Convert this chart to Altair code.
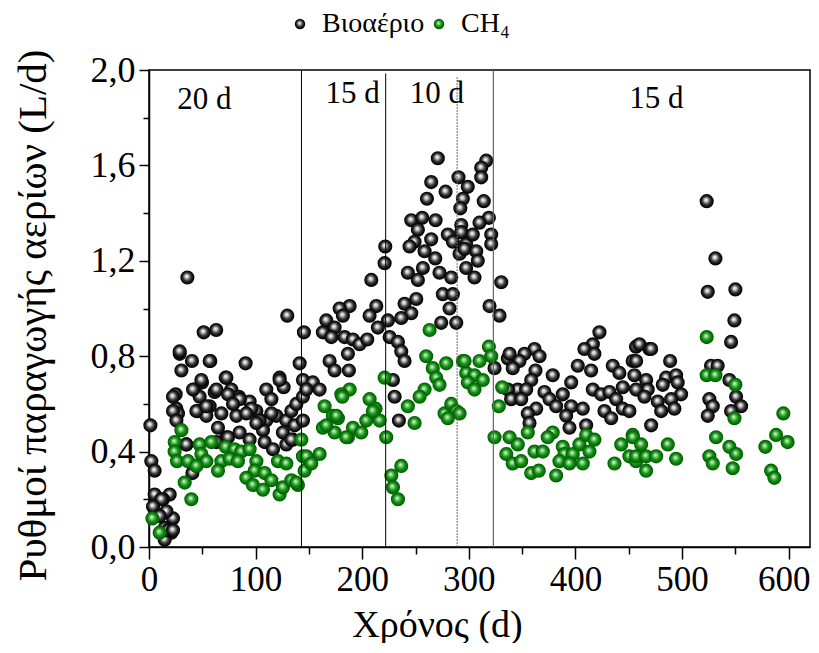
import altair as alt
import pandas as pd

# ---------------- data ----------------
series_names = ["Βιοαέριο", "CH₄"]

bio_x = [36, 51.3, 63, 28.8, 40.3, 57.5, 30.4, 71.9, 90.6, 129.7, 145.3, 141.3, 25, 1.3, 2.2, 5.3,
         25.7, 42.8, 49.7, 61.6, 47.5, 56.9, 77.2, 84.4, 94.4, 110, 114.8, 122.5, 126.3, 144.4,
         27.2, 46, 53.8, 67.9, 82, 100.7, 64.7, 85, 110, 119.4, 128.8, 136.6, 106.9, 72.6, 94.4,
         108.5, 116.3, 128.8, 135, 35, 40.7, 5.3, 19.4, 13.1, 22.5, 14.7, 21, 14.7,
         41.3, 49.1, 63.2, 74.1, 85, 96, 103.8, 122.5, 133.5, 138.2, 144.4, 153.7, 160, 44.4, 53.8,
         22.5, 22.5, 25.7, 56.9, 28.8, 72.6, 78.8, 91.3, 114.8, 125.6, 100.7, 63.2, 74.1, 35,
         11.6, 16.3, 3.8, 10, 17.8, 22.5,
         270.9, 290.3, 264.7, 278.2, 260.7, 294.4, 292, 246, 256.3, 268.8, 252.2, 280.3, 292.9, 264.7,
         249.1, 244.4, 221.6, 258.5, 268.5, 291.3, 221, 256.9, 242.8, 208.5, 252.2, 272.5, 283.5, 297.5,
         275.6, 285, 281.9, 274.1, 288.2, 239.7, 250.7, 246, 236.6, 213.2, 206.9, 224.1, 214.7, 188.2,
         178.8, 181.9, 166.3, 163.1, 174.1, 171, 183.5, 191.3, 197.5, 204.7, 186.6, 225.7, 233.5, 236.6,
         239.7, 169.4, 174.1, 187.5, 228.8, 230.4, 234.4, 147.6, 144.4, 133.5, 292.9, 297.5,
         316.3, 311.6, 311.6, 299, 314, 318.8, 321, 321, 310, 303.7, 296, 306.9, 308.4, 305.3, 285,
         319.4, 330.4, 328.8,
         422.5, 416.3, 408.4, 417.8, 361.6, 352.2, 366.3, 336.6, 347.5, 324.1, 341.2, 362.5, 378.7,
         358.5, 396, 402.2, 414.7, 435, 441.2, 453.7, 456.8, 345.9, 336.6, 353.8, 370.9, 388.1, 375.7,
         339.7, 349.1, 416.3, 424.1, 431.9, 444.4, 438.2, 363.2, 355.3, 381.9, 396, 406.9, 391.3, 356.9,
         394.4, 410, 427.2, 444.4, 433.5, 460, 469.4, 338.2,
         523.1, 531.3, 524.1, 550, 549.1, 546, 471, 488.8, 456.9, 527.2, 533.4, 544.4, 455.3, 466.3,
         485, 494.4, 495.9, 481.9, 467.8, 456.9, 499.1, 489.8, 477.2, 464.7, 480.4, 492.8, 525.6, 528.8,
         524.1, 550.7, 555.4, 546, 471, 450.6]
bio_y = [1.13, 0.90, 0.91, 0.81, 0.78, 0.78, 0.74, 0.71, 0.77, 0.97, 0.90, 0.77, 0.64, 0.51, 0.36, 0.32,
         0.58, 0.66, 0.69, 0.65, 0.63, 0.59, 0.66, 0.63, 0.61, 0.66, 0.62, 0.71, 0.67, 0.70,
         0.56, 0.57, 0.55, 0.56, 0.55, 0.57, 0.50, 0.48, 0.53, 0.55, 0.53, 0.51, 0.49, 0.46, 0.45,
         0.44, 0.41, 0.43, 0.45, 0.43, 0.31, 0.22, 0.22, 0.20, 0.12, 0.08, 0.06, 0.03,
         0.66, 0.70, 0.66, 0.64, 0.62, 0.58, 0.53, 0.70, 0.57, 0.60, 0.63, 0.69, 0.66, 0.57, 0.59,
         0.57, 0.63, 0.53, 0.78, 0.82, 0.71, 0.60, 0.56, 0.56, 0.48, 0.52, 0.44, 0.46, 0.43,
         0.20, 0.15, 0.17, 0.13, 0.07, 0.07,
         1.63, 1.55, 1.53, 1.49, 1.46, 1.46, 1.42, 1.37, 1.38, 1.37, 1.33, 1.31, 1.35, 1.29,
         1.28, 1.26, 1.26, 1.24, 1.21, 1.23, 1.19, 1.17, 1.15, 1.12, 1.12, 1.15, 1.13, 1.17,
         1.06, 1.06, 1.00, 0.94, 0.94, 1.02, 1.04, 0.98, 0.96, 1.01, 0.97, 0.95, 0.92, 1.01,
         1.00, 0.97, 0.95, 0.90, 0.92, 0.88, 0.88, 0.87, 0.85, 0.87, 0.81, 0.88, 0.86, 0.82,
         0.78, 0.78, 0.74, 0.74, 0.70, 0.63, 0.53, 0.66, 0.53, 0.45, 1.32, 1.27,
         1.62, 1.59, 1.55, 1.51, 1.45, 1.38, 1.31, 1.27, 1.36, 1.31, 1.25, 1.24, 1.20, 1.13, 1.28,
         1.01, 1.11, 0.97,
         0.90, 0.85, 0.83, 0.81, 0.83, 0.81, 0.80, 0.79, 0.78, 0.75, 0.75, 0.74, 0.72,
         0.70, 0.69, 0.76, 0.74, 0.76, 0.73, 0.78, 0.84, 0.66, 0.66, 0.66, 0.65, 0.64, 0.62,
         0.62, 0.62, 0.66, 0.64, 0.65, 0.67, 0.62, 0.58, 0.56, 0.59, 0.59, 0.58, 0.55, 0.52,
         0.50, 0.51, 0.57, 0.58, 0.54, 0.85, 0.83, 0.81,
         1.45, 1.21, 1.07, 1.08, 0.95, 0.86, 0.83, 0.78, 0.78, 0.76, 0.76, 0.70, 0.72, 0.70,
         0.71, 0.72, 0.69, 0.68, 0.66, 0.66, 0.64, 0.62, 0.61, 0.63, 0.57, 0.58, 0.62, 0.59,
         0.55, 0.63, 0.59, 0.57, 0.51, 0.57]

ch4_x = [30.4, 24.1, 24, 26.3, 36.6, 47.5, 58.5, 49.1, 53.8, 44.4, 67.9, 64.7, 71.9, 80.3, 86.6, 94.4,
         100.7, 75.7, 83.4, 99.1, 91.3, 97.5, 106.9, 108.5, 114.8, 121, 128.8, 122.5, 125.6, 133.5,
         139.7, 142.9, 144.4, 33.5, 39.7, 3.2, 10,
         263.2, 260, 266.2, 278.8, 269.4, 272.5, 294.4, 297.5, 258.5, 253.8, 242.8, 249.1, 277.2, 283.5,
         288.2, 280.3, 221, 206.9, 212.5, 203.8, 216.3, 222.5, 188.2, 180.4, 164.7, 172.5, 177.2, 163.1,
         174.1, 186.6, 191.3, 199.1, 236.6, 227.3, 228.8, 233.5, 160, 150.7, 146, 138.2,
         147.6, 152.2, 181.3, 210, 166.3, 175.7, 185,
         318.8, 321, 296, 310, 305.3, 299.1, 313.1, 305.3, 331.3, 328.1, 291.3, 324.1, 338.2, 345.9,
         355.3, 335.1, 341.2, 349.1, 361.6, 369.4, 358.5, 365.6, 378.7, 374, 388.1, 389.7, 397.5, 385,
         381.9, 394.4, 406.9, 403.7, 410, 417.8, 413.1, 442.9, 453.7, 436.6, 450.6, 456.9,
         523.1, 523.1, 531.3, 550, 549.1, 595, 588.2, 599, 578.1, 531.9, 544.4, 550.7, 525.6, 528.8,
         547.5, 583.5, 586.6, 453.8, 461.6, 486.6, 456.9, 466.3, 475.7, 494.4, 466.3]
ch4_y = [0.49, 0.44, 0.40, 0.36, 0.36, 0.43, 0.44, 0.39, 0.36, 0.34, 0.36, 0.32, 0.42, 0.41, 0.40, 0.41,
         0.36, 0.37, 0.36, 0.32, 0.29, 0.26, 0.24, 0.31, 0.28, 0.36, 0.35, 0.22, 0.25, 0.28,
         0.26, 0.45, 0.38, 0.27, 0.20, 0.12, 0.06,
         0.91, 0.80, 0.75, 0.77, 0.71, 0.68, 0.78, 0.73, 0.66, 0.63, 0.59, 0.52, 0.56, 0.60,
         0.57, 0.54, 0.71, 0.62, 0.58, 0.53, 0.53, 0.46, 0.66, 0.64, 0.59, 0.55, 0.54, 0.50,
         0.48, 0.46, 0.50, 0.48, 0.34, 0.30, 0.25, 0.20, 0.39, 0.36, 0.32, 0.27,
         0.38, 0.35, 0.63, 0.57, 0.51, 0.55, 0.46,
         0.84, 0.80, 0.78, 0.78, 0.72, 0.69, 0.70, 0.66, 0.67, 0.59, 0.56, 0.46, 0.46, 0.43,
         0.48, 0.39, 0.35, 0.36, 0.40, 0.40, 0.31, 0.32, 0.48, 0.46, 0.42, 0.39, 0.39, 0.36,
         0.30, 0.35, 0.35, 0.43, 0.47, 0.45, 0.40, 0.43, 0.47, 0.35, 0.38, 0.36,
         0.88, 0.72, 0.72, 0.68, 0.54, 0.56, 0.47, 0.44, 0.42, 0.46, 0.42, 0.39, 0.38, 0.35,
         0.33, 0.32, 0.29, 0.46, 0.43, 0.43, 0.38, 0.38, 0.38, 0.37, 0.32]

vline_x = [143, 222, 289, 323]
vline_bottom = [0.0, 0.0, 0.0, 0.0]
vline_top = [2.0, 1.985, 1.975, 2.0]

period_labels = ["20 d", "15 d", "10 d", "15 d"]
period_x = [52, 191, 270, 476]
period_y = [1.873, 1.90, 1.90, 1.877]

x_ticks = list(range(0, 601, 50))
y_ticks = [round(i * 0.2, 1) for i in range(11)]

# ---------------- chart ----------------
FONT = "Liberation Serif"

df = pd.concat([
    pd.DataFrame({"x": bio_x, "y": bio_y, "series": series_names[0]}),
    pd.DataFrame({"x": ch4_x, "y": ch4_y, "series": series_names[1]}),
], ignore_index=True)

black_grad = ("{gradient: 'radial', x1: 0.44, y1: 0.4, r1: 0, x2: 0.5, y2: 0.5, r2: 0.5, "
              "stops: [{offset: 0, color: '#ffffff'}, {offset: 0.22, color: '#cfcfcf'}, "
              "{offset: 0.55, color: '#3c3c3c'}, {offset: 0.85, color: '#080808'}, "
              "{offset: 1, color: '#000000'}]}")
green_grad = ("{gradient: 'radial', x1: 0.44, y1: 0.4, r1: 0, x2: 0.5, y2: 0.5, r2: 0.5, "
              "stops: [{offset: 0, color: '#f0fbf0'}, {offset: 0.22, color: '#8fd08f'}, "
              "{offset: 0.55, color: '#129212'}, {offset: 0.85, color: '#046e04'}, "
              "{offset: 1, color: '#005000'}]}")

xscale = alt.Scale(domain=[0, 620], nice=False, zero=False)
yscale = alt.Scale(domain=[0, 2.0], nice=False, zero=False)

x_axis = alt.Axis(
    values=x_ticks,
    labelExpr="datum.value % 100 === 0 ? datum.label : ''",
    tickSize={"condition": {"test": "datum.value % 100 === 0", "value": 12}, "value": 7},
    labelOffset={"condition": {"test": "datum.value === 600", "value": -5}, "value": 0},
    title="Χρόνος (d)", titleFont=FONT, titleFontSize=38, titleFontWeight="normal",
    titleColor="black", titleX=288, titleY=78, titleBaseline="middle", titleAlign="center",
    labelFont=FONT, labelFontSize=35, labelColor="black", labelPadding=3,
    labelOverlap=False, labelFlush=False,
    domainColor="black", domainWidth=1.5, tickColor="black", tickWidth=1.5, grid=False,
)
y_axis = alt.Axis(
    values=y_ticks,
    labelExpr="round(datum.value*10) % 4 === 0 ? replace(format(datum.value, '.1f'), '.', ',') : ''",
    tickSize={"condition": {"test": "round(datum.value*10) % 4 === 0", "value": 10}, "value": 6},
    title="Ρυθμοί παραγωγής αερίων (L/d)", titleFont=FONT, titleFontSize=41,
    titleFontWeight="normal", titleColor="black", titleAngle=270,
    titleX=-115.5, titleY=245, titleBaseline="middle", titleAlign="center",
    labelFont=FONT, labelFontSize=36, labelColor="black", labelPadding=4,
    labelOverlap=False, labelFlush=False,
    domainColor="black", domainWidth=1.5, tickColor="black", tickWidth=1.5, grid=False,
)

points = alt.Chart(df).mark_point(filled=True, opacity=1, size=200, strokeWidth=0).encode(
    x=alt.X("x:Q", scale=xscale, axis=x_axis),
    y=alt.Y("y:Q", scale=yscale, axis=y_axis),
    color=alt.Color(
        "series:N",
        scale=alt.Scale(domain=series_names,
                        range=[alt.ExprRef(expr=black_grad), alt.ExprRef(expr=green_grad)]),
        legend=alt.Legend(
            title=None, orient="none", legendX=137, legendY=-60, direction="horizontal",
            columns=2, labelFont=FONT, labelFontSize=28, labelColor="black",
            symbolType="circle", symbolSize=110, symbolStrokeWidth=0, labelOffset=8,
            columnPadding=-16, padding=0,
        ),
    ),
)

rules_df = pd.DataFrame({"x": vline_x, "bottom": vline_bottom, "top": vline_top})

def rule_layer(sub, **style):
    return alt.Chart(sub).mark_rule(**style).encode(
        x=alt.X("x:Q", scale=xscale, axis=x_axis),
        y=alt.Y("bottom:Q", scale=yscale, axis=y_axis),
        y2="top:Q",
    )

rules_solid = rule_layer(rules_df.iloc[0:2], color="black", strokeWidth=1)
rules_dot = rule_layer(rules_df.iloc[2:3], color="#6a6a6a", strokeWidth=1, strokeDash=[2, 1])
rules_grey = rule_layer(rules_df.iloc[3:4], color="#666666", strokeWidth=1.2)

labels_df = pd.DataFrame({"x": period_x, "y": period_y, "t": period_labels})
labels = alt.Chart(labels_df).mark_text(
    font=FONT, fontSize=31, color="black", baseline="middle", align="center"
).encode(
    x=alt.X("x:Q", scale=xscale, axis=x_axis),
    y=alt.Y("y:Q", scale=yscale, axis=y_axis),
    text="t:N",
)

chart = alt.layer(points, rules_solid, rules_dot, rules_grey, labels).properties(
    width=661, height=477,
    autosize=alt.AutoSizeParams(type="none"),
    padding={"left": 141, "top": 62, "right": 1, "bottom": 96},
    background="white",
).configure(font=FONT).configure_axis(labelFont=FONT, titleFont=FONT).configure_legend(
    labelFont=FONT
).configure_view(stroke="black", strokeWidth=1.5)

chart.save("out.html", embed_options={"renderer": "svg", "actions": False})
